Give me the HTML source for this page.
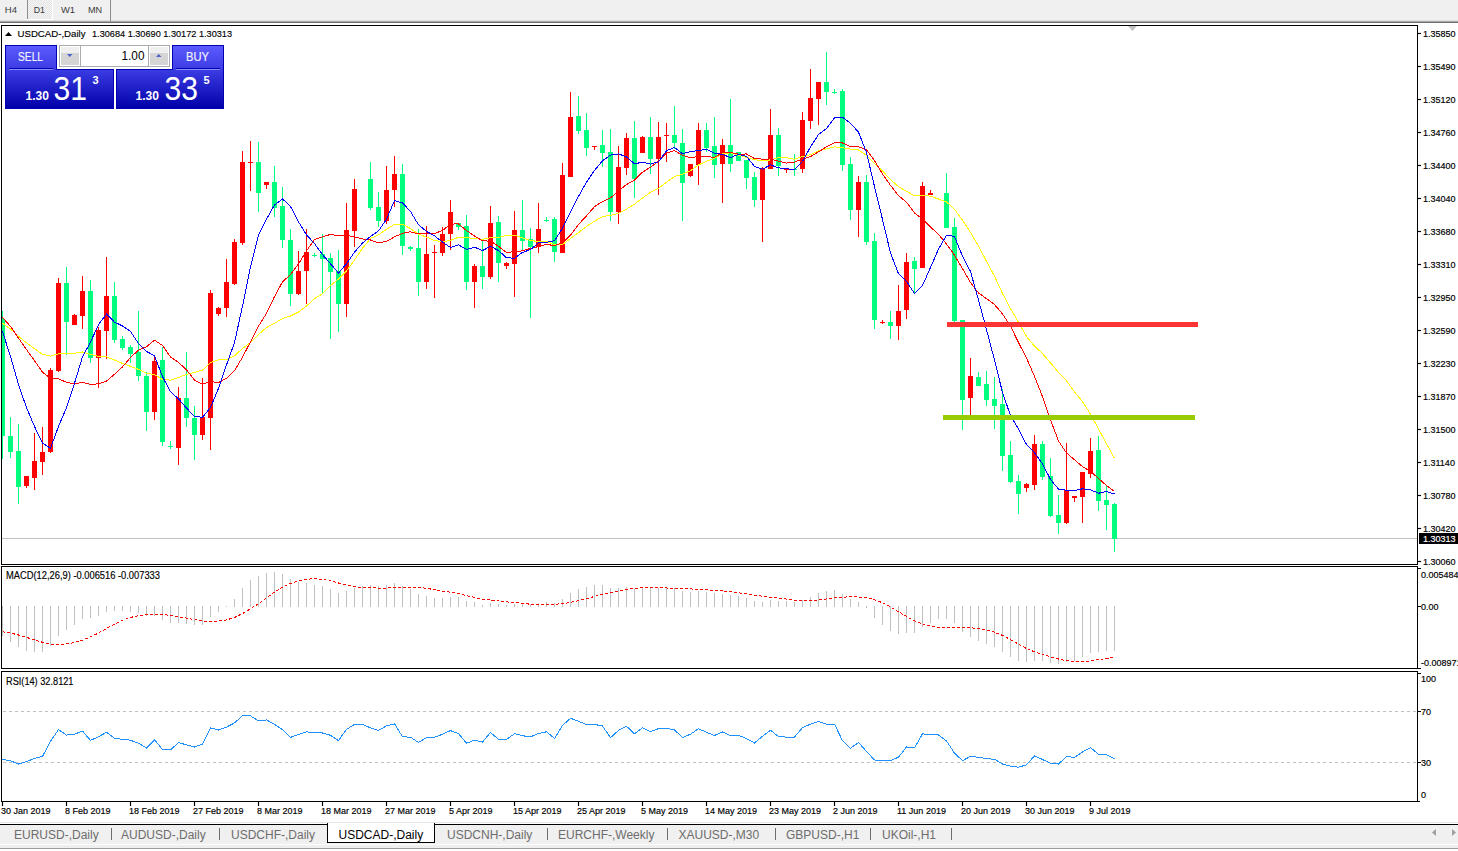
<!DOCTYPE html>
<html><head><meta charset="utf-8">
<style>
html,body{margin:0;padding:0;width:1458px;height:851px;overflow:hidden;background:#fff;}
svg{position:absolute;left:0;top:0}
text{font-family:"Liberation Sans",sans-serif;}
</style></head><body>
<svg width="1458" height="851" viewBox="0 0 1458 851">
<defs>
<clipPath id="cm"><rect x="2" y="26" width="1415" height="538"/></clipPath>
<clipPath id="cd"><rect x="2" y="567" width="1415" height="101"/></clipPath>
<clipPath id="cr"><rect x="2" y="672" width="1415" height="129"/></clipPath>
<pattern id="dots" width="2" height="2" patternUnits="userSpaceOnUse"><rect width="2" height="2" fill="#f5f5f5"/><rect width="1" height="1" fill="#e4e4e4"/><rect x="1" y="1" width="1" height="1" fill="#e4e4e4"/></pattern>
<linearGradient id="gb" gradientUnits="userSpaceOnUse" x1="0" y1="45" x2="0" y2="109"><stop offset="0" stop-color="#5c5cff"/><stop offset="0.37" stop-color="#3d3de6"/><stop offset="1" stop-color="#0000a8"/></linearGradient>
<linearGradient id="btn" x1="0" y1="0" x2="0" y2="1"><stop offset="0" stop-color="#f2f2f2"/><stop offset="1" stop-color="#d2d2d2"/></linearGradient>
</defs>
<g shape-rendering="crispEdges">
<!-- toolbar -->
<rect x="0" y="0" width="1458" height="21" fill="#f0f0f0"/>
<rect x="0" y="20" width="1458" height="1" fill="#e0e0e0"/>
<rect x="0" y="21" width="1458" height="1" fill="#a8a8a8"/>
<rect x="0" y="22" width="1458" height="1" fill="#707070"/>
<rect x="28" y="0" width="24" height="19" fill="url(#dots)"/>
<rect x="52" y="0" width="1" height="20" fill="#ffffff"/>
<rect x="27" y="19" width="26" height="1" fill="#ffffff"/>
<rect x="27" y="0" width="1" height="19" fill="#8c8c8c"/>
<rect x="110" y="0" width="1" height="21" fill="#8c8c8c"/>
<!-- frames -->
<rect x="1" y="25" width="1417" height="1" fill="#000"/>
<rect x="1" y="564" width="1417" height="1" fill="#000"/>
<rect x="1" y="25" width="1" height="540" fill="#000"/>
<rect x="1417" y="25" width="1" height="540" fill="#000"/>
<rect x="1" y="566" width="1417" height="1" fill="#000"/>
<rect x="1" y="668" width="1417" height="1" fill="#000"/>
<rect x="1" y="566" width="1" height="103" fill="#000"/>
<rect x="1417" y="566" width="1" height="103" fill="#000"/>
<rect x="1" y="671" width="1417" height="1" fill="#000"/>
<rect x="1" y="801" width="1417" height="1" fill="#000"/>
<rect x="1" y="671" width="1" height="131" fill="#000"/>
<rect x="1417" y="671" width="1" height="131" fill="#000"/>
<!-- main chart content -->
<g clip-path="url(#cm)">
<rect x="2" y="538" width="1415" height="1" fill="#c0c0c0"/>
<polygon points="1128,26 1137,26 1132.5,31" fill="#c0c0c0" shape-rendering="auto"/>
<rect x="2" y="311" width="1" height="148" fill="#00ff7f"/>
<rect x="0" y="319" width="5" height="117" fill="#00ff7f"/>
<rect x="10" y="417" width="1" height="41" fill="#00ff7f"/>
<rect x="8" y="436" width="5" height="16" fill="#00ff7f"/>
<rect x="18" y="424" width="1" height="80" fill="#00ff7f"/>
<rect x="16" y="451" width="5" height="36" fill="#00ff7f"/>
<rect x="26" y="476" width="1" height="12" fill="#ff0000"/>
<rect x="24" y="476" width="5" height="10" fill="#ff0000"/>
<rect x="34" y="433" width="1" height="57" fill="#ff0000"/>
<rect x="32" y="461" width="5" height="17" fill="#ff0000"/>
<rect x="42" y="427" width="1" height="48" fill="#ff0000"/>
<rect x="40" y="452" width="5" height="10" fill="#ff0000"/>
<rect x="50" y="368" width="1" height="85" fill="#ff0000"/>
<rect x="48" y="370" width="5" height="82" fill="#ff0000"/>
<rect x="58" y="278" width="1" height="94" fill="#ff0000"/>
<rect x="56" y="283" width="5" height="88" fill="#ff0000"/>
<rect x="66" y="267" width="1" height="88" fill="#00ff7f"/>
<rect x="64" y="283" width="5" height="39" fill="#00ff7f"/>
<rect x="74" y="314" width="1" height="11" fill="#ff0000"/>
<rect x="72" y="315" width="5" height="10" fill="#ff0000"/>
<rect x="82" y="276" width="1" height="53" fill="#ff0000"/>
<rect x="80" y="291" width="5" height="25" fill="#ff0000"/>
<rect x="90" y="280" width="1" height="83" fill="#00ff7f"/>
<rect x="88" y="291" width="5" height="67" fill="#00ff7f"/>
<rect x="98" y="327" width="1" height="61" fill="#ff0000"/>
<rect x="96" y="330" width="5" height="28" fill="#ff0000"/>
<rect x="106" y="257" width="1" height="102" fill="#ff0000"/>
<rect x="104" y="296" width="5" height="35" fill="#ff0000"/>
<rect x="114" y="282" width="1" height="61" fill="#00ff7f"/>
<rect x="112" y="296" width="5" height="44" fill="#00ff7f"/>
<rect x="122" y="336" width="1" height="14" fill="#00ff7f"/>
<rect x="120" y="339" width="5" height="9" fill="#00ff7f"/>
<rect x="130" y="345" width="1" height="18" fill="#00ff7f"/>
<rect x="128" y="347" width="5" height="7" fill="#00ff7f"/>
<rect x="138" y="311" width="1" height="70" fill="#00ff7f"/>
<rect x="136" y="352" width="5" height="24" fill="#00ff7f"/>
<rect x="146" y="372" width="1" height="59" fill="#00ff7f"/>
<rect x="144" y="376" width="5" height="36" fill="#00ff7f"/>
<rect x="154" y="356" width="1" height="64" fill="#ff0000"/>
<rect x="152" y="361" width="5" height="51" fill="#ff0000"/>
<rect x="162" y="347" width="1" height="99" fill="#00ff7f"/>
<rect x="160" y="360" width="5" height="82" fill="#00ff7f"/>
<rect x="170" y="441" width="1" height="8" fill="#00ff7f"/>
<rect x="168" y="446" width="5" height="1" fill="#00ff7f"/>
<rect x="178" y="387" width="1" height="78" fill="#ff0000"/>
<rect x="176" y="398" width="5" height="50" fill="#ff0000"/>
<rect x="186" y="352" width="1" height="75" fill="#00ff7f"/>
<rect x="184" y="398" width="5" height="20" fill="#00ff7f"/>
<rect x="194" y="406" width="1" height="54" fill="#00ff7f"/>
<rect x="192" y="418" width="5" height="17" fill="#00ff7f"/>
<rect x="202" y="378" width="1" height="62" fill="#ff0000"/>
<rect x="200" y="417" width="5" height="18" fill="#ff0000"/>
<rect x="210" y="290" width="1" height="160" fill="#ff0000"/>
<rect x="208" y="293" width="5" height="125" fill="#ff0000"/>
<rect x="218" y="307" width="1" height="9" fill="#ff0000"/>
<rect x="216" y="308" width="5" height="6" fill="#ff0000"/>
<rect x="226" y="259" width="1" height="58" fill="#ff0000"/>
<rect x="224" y="282" width="5" height="26" fill="#ff0000"/>
<rect x="234" y="239" width="1" height="46" fill="#ff0000"/>
<rect x="232" y="242" width="5" height="42" fill="#ff0000"/>
<rect x="242" y="151" width="1" height="94" fill="#ff0000"/>
<rect x="240" y="162" width="5" height="81" fill="#ff0000"/>
<rect x="250" y="141" width="1" height="50" fill="#ff0000"/>
<rect x="248" y="162" width="5" height="1" fill="#ff0000"/>
<rect x="258" y="142" width="1" height="70" fill="#00ff7f"/>
<rect x="256" y="162" width="5" height="31" fill="#00ff7f"/>
<rect x="266" y="182" width="1" height="7" fill="#ff0000"/>
<rect x="264" y="182" width="5" height="3" fill="#ff0000"/>
<rect x="274" y="166" width="1" height="51" fill="#00ff7f"/>
<rect x="272" y="182" width="5" height="26" fill="#00ff7f"/>
<rect x="282" y="187" width="1" height="61" fill="#00ff7f"/>
<rect x="280" y="206" width="5" height="34" fill="#00ff7f"/>
<rect x="290" y="229" width="1" height="77" fill="#00ff7f"/>
<rect x="288" y="240" width="5" height="54" fill="#00ff7f"/>
<rect x="298" y="251" width="1" height="44" fill="#ff0000"/>
<rect x="296" y="271" width="5" height="23" fill="#ff0000"/>
<rect x="306" y="229" width="1" height="75" fill="#ff0000"/>
<rect x="304" y="252" width="5" height="19" fill="#ff0000"/>
<rect x="314" y="253" width="1" height="4" fill="#00ff7f"/>
<rect x="312" y="255" width="5" height="1" fill="#00ff7f"/>
<rect x="322" y="234" width="1" height="59" fill="#00ff7f"/>
<rect x="320" y="254" width="5" height="5" fill="#00ff7f"/>
<rect x="330" y="253" width="1" height="86" fill="#00ff7f"/>
<rect x="328" y="258" width="5" height="14" fill="#00ff7f"/>
<rect x="338" y="250" width="1" height="82" fill="#00ff7f"/>
<rect x="336" y="271" width="5" height="33" fill="#00ff7f"/>
<rect x="346" y="203" width="1" height="114" fill="#ff0000"/>
<rect x="344" y="230" width="5" height="74" fill="#ff0000"/>
<rect x="354" y="179" width="1" height="68" fill="#ff0000"/>
<rect x="352" y="189" width="5" height="42" fill="#ff0000"/>
<rect x="370" y="162" width="1" height="48" fill="#00ff7f"/>
<rect x="368" y="179" width="5" height="29" fill="#00ff7f"/>
<rect x="378" y="192" width="1" height="35" fill="#00ff7f"/>
<rect x="376" y="207" width="5" height="14" fill="#00ff7f"/>
<rect x="386" y="166" width="1" height="58" fill="#ff0000"/>
<rect x="384" y="190" width="5" height="31" fill="#ff0000"/>
<rect x="394" y="156" width="1" height="51" fill="#ff0000"/>
<rect x="392" y="174" width="5" height="16" fill="#ff0000"/>
<rect x="402" y="164" width="1" height="91" fill="#00ff7f"/>
<rect x="400" y="174" width="5" height="72" fill="#00ff7f"/>
<rect x="410" y="246" width="1" height="5" fill="#00ff7f"/>
<rect x="408" y="247" width="5" height="2" fill="#00ff7f"/>
<rect x="418" y="229" width="1" height="67" fill="#00ff7f"/>
<rect x="416" y="248" width="5" height="34" fill="#00ff7f"/>
<rect x="426" y="226" width="1" height="63" fill="#ff0000"/>
<rect x="424" y="254" width="5" height="28" fill="#ff0000"/>
<rect x="434" y="245" width="1" height="53" fill="#ff0000"/>
<rect x="432" y="252" width="5" height="1" fill="#ff0000"/>
<rect x="442" y="227" width="1" height="29" fill="#ff0000"/>
<rect x="440" y="234" width="5" height="19" fill="#ff0000"/>
<rect x="450" y="200" width="1" height="50" fill="#ff0000"/>
<rect x="448" y="212" width="5" height="22" fill="#ff0000"/>
<rect x="458" y="223" width="1" height="7" fill="#00ff7f"/>
<rect x="456" y="223" width="5" height="4" fill="#00ff7f"/>
<rect x="466" y="215" width="1" height="75" fill="#00ff7f"/>
<rect x="464" y="226" width="5" height="56" fill="#00ff7f"/>
<rect x="474" y="264" width="1" height="44" fill="#ff0000"/>
<rect x="472" y="266" width="5" height="16" fill="#ff0000"/>
<rect x="482" y="240" width="1" height="49" fill="#00ff7f"/>
<rect x="480" y="266" width="5" height="11" fill="#00ff7f"/>
<rect x="490" y="206" width="1" height="73" fill="#ff0000"/>
<rect x="488" y="223" width="5" height="54" fill="#ff0000"/>
<rect x="498" y="216" width="1" height="66" fill="#00ff7f"/>
<rect x="496" y="222" width="5" height="41" fill="#00ff7f"/>
<rect x="506" y="262" width="1" height="7" fill="#ff0000"/>
<rect x="504" y="263" width="5" height="3" fill="#ff0000"/>
<rect x="514" y="211" width="1" height="86" fill="#ff0000"/>
<rect x="512" y="230" width="5" height="34" fill="#ff0000"/>
<rect x="522" y="200" width="1" height="50" fill="#00ff7f"/>
<rect x="520" y="230" width="5" height="11" fill="#00ff7f"/>
<rect x="530" y="228" width="1" height="90" fill="#00ff7f"/>
<rect x="528" y="239" width="5" height="8" fill="#00ff7f"/>
<rect x="538" y="203" width="1" height="50" fill="#ff0000"/>
<rect x="536" y="229" width="5" height="18" fill="#ff0000"/>
<rect x="546" y="217" width="1" height="5" fill="#00ff7f"/>
<rect x="544" y="220" width="5" height="1" fill="#00ff7f"/>
<rect x="554" y="217" width="1" height="45" fill="#00ff7f"/>
<rect x="552" y="219" width="5" height="33" fill="#00ff7f"/>
<rect x="562" y="163" width="1" height="90" fill="#ff0000"/>
<rect x="560" y="175" width="5" height="78" fill="#ff0000"/>
<rect x="570" y="92" width="1" height="85" fill="#ff0000"/>
<rect x="568" y="117" width="5" height="60" fill="#ff0000"/>
<rect x="578" y="96" width="1" height="38" fill="#00ff7f"/>
<rect x="576" y="116" width="5" height="15" fill="#00ff7f"/>
<rect x="586" y="113" width="1" height="43" fill="#00ff7f"/>
<rect x="584" y="130" width="5" height="18" fill="#00ff7f"/>
<rect x="594" y="146" width="1" height="4" fill="#ff0000"/>
<rect x="592" y="146" width="5" height="1" fill="#ff0000"/>
<rect x="602" y="130" width="1" height="37" fill="#00ff7f"/>
<rect x="600" y="145" width="5" height="8" fill="#00ff7f"/>
<rect x="610" y="129" width="1" height="92" fill="#00ff7f"/>
<rect x="608" y="152" width="5" height="60" fill="#00ff7f"/>
<rect x="618" y="146" width="1" height="78" fill="#ff0000"/>
<rect x="616" y="167" width="5" height="45" fill="#ff0000"/>
<rect x="626" y="133" width="1" height="42" fill="#ff0000"/>
<rect x="624" y="138" width="5" height="30" fill="#ff0000"/>
<rect x="634" y="121" width="1" height="77" fill="#00ff7f"/>
<rect x="632" y="138" width="5" height="41" fill="#00ff7f"/>
<rect x="642" y="136" width="1" height="17" fill="#ff0000"/>
<rect x="640" y="137" width="5" height="16" fill="#ff0000"/>
<rect x="650" y="117" width="1" height="57" fill="#00ff7f"/>
<rect x="648" y="137" width="5" height="22" fill="#00ff7f"/>
<rect x="658" y="122" width="1" height="73" fill="#ff0000"/>
<rect x="656" y="137" width="5" height="22" fill="#ff0000"/>
<rect x="666" y="123" width="1" height="39" fill="#ff0000"/>
<rect x="664" y="135" width="5" height="1" fill="#ff0000"/>
<rect x="674" y="106" width="1" height="43" fill="#00ff7f"/>
<rect x="672" y="135" width="5" height="8" fill="#00ff7f"/>
<rect x="682" y="129" width="1" height="92" fill="#00ff7f"/>
<rect x="680" y="143" width="5" height="40" fill="#00ff7f"/>
<rect x="690" y="164" width="1" height="13" fill="#ff0000"/>
<rect x="688" y="164" width="5" height="12" fill="#ff0000"/>
<rect x="698" y="123" width="1" height="62" fill="#ff0000"/>
<rect x="696" y="130" width="5" height="35" fill="#ff0000"/>
<rect x="706" y="123" width="1" height="29" fill="#00ff7f"/>
<rect x="704" y="130" width="5" height="18" fill="#00ff7f"/>
<rect x="714" y="117" width="1" height="61" fill="#00ff7f"/>
<rect x="712" y="146" width="5" height="19" fill="#00ff7f"/>
<rect x="722" y="139" width="1" height="64" fill="#ff0000"/>
<rect x="720" y="145" width="5" height="19" fill="#ff0000"/>
<rect x="730" y="99" width="1" height="73" fill="#00ff7f"/>
<rect x="728" y="145" width="5" height="19" fill="#00ff7f"/>
<rect x="738" y="152" width="1" height="9" fill="#00ff7f"/>
<rect x="736" y="152" width="5" height="9" fill="#00ff7f"/>
<rect x="746" y="160" width="1" height="29" fill="#00ff7f"/>
<rect x="744" y="160" width="5" height="18" fill="#00ff7f"/>
<rect x="754" y="172" width="1" height="35" fill="#00ff7f"/>
<rect x="752" y="177" width="5" height="23" fill="#00ff7f"/>
<rect x="762" y="167" width="1" height="75" fill="#ff0000"/>
<rect x="760" y="168" width="5" height="32" fill="#ff0000"/>
<rect x="770" y="109" width="1" height="60" fill="#ff0000"/>
<rect x="768" y="135" width="5" height="34" fill="#ff0000"/>
<rect x="778" y="128" width="1" height="48" fill="#00ff7f"/>
<rect x="776" y="135" width="5" height="31" fill="#00ff7f"/>
<rect x="786" y="168" width="1" height="5" fill="#ff0000"/>
<rect x="784" y="169" width="5" height="1" fill="#ff0000"/>
<rect x="794" y="154" width="1" height="22" fill="#00ff7f"/>
<rect x="792" y="169" width="5" height="1" fill="#00ff7f"/>
<rect x="802" y="112" width="1" height="61" fill="#ff0000"/>
<rect x="800" y="120" width="5" height="49" fill="#ff0000"/>
<rect x="810" y="69" width="1" height="60" fill="#ff0000"/>
<rect x="808" y="98" width="5" height="23" fill="#ff0000"/>
<rect x="818" y="82" width="1" height="43" fill="#ff0000"/>
<rect x="816" y="82" width="5" height="17" fill="#ff0000"/>
<rect x="826" y="52" width="1" height="53" fill="#00ff7f"/>
<rect x="824" y="82" width="5" height="10" fill="#00ff7f"/>
<rect x="834" y="89" width="1" height="5" fill="#00ff7f"/>
<rect x="832" y="92" width="5" height="1" fill="#00ff7f"/>
<rect x="842" y="89" width="1" height="82" fill="#00ff7f"/>
<rect x="840" y="91" width="5" height="74" fill="#00ff7f"/>
<rect x="850" y="157" width="1" height="63" fill="#00ff7f"/>
<rect x="848" y="164" width="5" height="46" fill="#00ff7f"/>
<rect x="858" y="176" width="1" height="61" fill="#ff0000"/>
<rect x="856" y="182" width="5" height="28" fill="#ff0000"/>
<rect x="866" y="175" width="1" height="70" fill="#00ff7f"/>
<rect x="864" y="182" width="5" height="60" fill="#00ff7f"/>
<rect x="874" y="233" width="1" height="96" fill="#00ff7f"/>
<rect x="872" y="241" width="5" height="79" fill="#00ff7f"/>
<rect x="882" y="320" width="1" height="4" fill="#ff0000"/>
<rect x="880" y="322" width="5" height="1" fill="#ff0000"/>
<rect x="890" y="311" width="1" height="28" fill="#00ff7f"/>
<rect x="888" y="322" width="5" height="4" fill="#00ff7f"/>
<rect x="898" y="285" width="1" height="55" fill="#ff0000"/>
<rect x="896" y="311" width="5" height="15" fill="#ff0000"/>
<rect x="906" y="253" width="1" height="66" fill="#ff0000"/>
<rect x="904" y="262" width="5" height="48" fill="#ff0000"/>
<rect x="914" y="257" width="1" height="36" fill="#00ff7f"/>
<rect x="912" y="261" width="5" height="8" fill="#00ff7f"/>
<rect x="922" y="182" width="1" height="86" fill="#ff0000"/>
<rect x="920" y="186" width="5" height="82" fill="#ff0000"/>
<rect x="930" y="190" width="1" height="5" fill="#ff0000"/>
<rect x="928" y="193" width="5" height="2" fill="#ff0000"/>
<rect x="946" y="173" width="1" height="55" fill="#00ff7f"/>
<rect x="944" y="193" width="5" height="35" fill="#00ff7f"/>
<rect x="954" y="218" width="1" height="104" fill="#00ff7f"/>
<rect x="952" y="227" width="5" height="94" fill="#00ff7f"/>
<rect x="962" y="320" width="1" height="110" fill="#00ff7f"/>
<rect x="960" y="320" width="5" height="80" fill="#00ff7f"/>
<rect x="970" y="358" width="1" height="57" fill="#ff0000"/>
<rect x="968" y="376" width="5" height="22" fill="#ff0000"/>
<rect x="978" y="372" width="1" height="14" fill="#00ff7f"/>
<rect x="976" y="377" width="5" height="9" fill="#00ff7f"/>
<rect x="986" y="371" width="1" height="35" fill="#00ff7f"/>
<rect x="984" y="384" width="5" height="16" fill="#00ff7f"/>
<rect x="994" y="377" width="1" height="52" fill="#00ff7f"/>
<rect x="992" y="399" width="5" height="7" fill="#00ff7f"/>
<rect x="1002" y="389" width="1" height="82" fill="#00ff7f"/>
<rect x="1000" y="404" width="5" height="52" fill="#00ff7f"/>
<rect x="1010" y="441" width="1" height="42" fill="#00ff7f"/>
<rect x="1008" y="455" width="5" height="27" fill="#00ff7f"/>
<rect x="1018" y="475" width="1" height="39" fill="#00ff7f"/>
<rect x="1016" y="481" width="5" height="13" fill="#00ff7f"/>
<rect x="1026" y="483" width="1" height="9" fill="#ff0000"/>
<rect x="1024" y="484" width="5" height="4" fill="#ff0000"/>
<rect x="1034" y="435" width="1" height="55" fill="#ff0000"/>
<rect x="1032" y="444" width="5" height="41" fill="#ff0000"/>
<rect x="1042" y="441" width="1" height="39" fill="#00ff7f"/>
<rect x="1040" y="444" width="5" height="33" fill="#00ff7f"/>
<rect x="1050" y="458" width="1" height="59" fill="#00ff7f"/>
<rect x="1048" y="476" width="5" height="40" fill="#00ff7f"/>
<rect x="1058" y="495" width="1" height="39" fill="#00ff7f"/>
<rect x="1056" y="515" width="5" height="8" fill="#00ff7f"/>
<rect x="1066" y="443" width="1" height="81" fill="#ff0000"/>
<rect x="1064" y="490" width="5" height="33" fill="#ff0000"/>
<rect x="1074" y="496" width="1" height="6" fill="#ff0000"/>
<rect x="1072" y="496" width="5" height="2" fill="#ff0000"/>
<rect x="1082" y="472" width="1" height="51" fill="#ff0000"/>
<rect x="1080" y="472" width="5" height="25" fill="#ff0000"/>
<rect x="1090" y="438" width="1" height="40" fill="#ff0000"/>
<rect x="1088" y="451" width="5" height="23" fill="#ff0000"/>
<rect x="1098" y="436" width="1" height="75" fill="#00ff7f"/>
<rect x="1096" y="450" width="5" height="51" fill="#00ff7f"/>
<rect x="1106" y="485" width="1" height="45" fill="#00ff7f"/>
<rect x="1104" y="500" width="5" height="5" fill="#00ff7f"/>
<rect x="1114" y="503" width="1" height="49" fill="#00ff7f"/>
<rect x="1112" y="504" width="5" height="35" fill="#00ff7f"/>
<g shape-rendering="crispEdges">
<polyline points="2.5,323.4 10.5,329.0 18.5,336.2 26.5,342.8 34.5,348.7 42.5,354.3 50.5,356.1 58.5,353.8 66.5,353.5 74.5,353.2 82.5,352.0 90.5,354.5 98.5,356.3 106.5,356.9 114.5,360.0 122.5,363.4 130.5,366.4 138.5,369.4 146.5,373.3 154.5,374.5 162.5,379.6 170.5,380.1 178.5,377.5 186.5,374.3 194.5,372.3 202.5,370.2 210.5,362.6 218.5,359.7 226.5,359.6 234.5,355.8 242.5,348.5 250.5,342.4 258.5,334.5 266.5,327.5 274.5,323.3 282.5,318.5 290.5,316.0 298.5,312.0 306.5,306.1 314.5,298.6 322.5,293.8 330.5,285.7 338.5,278.9 346.5,270.9 354.5,260.0 362.5,248.3 370.5,238.4 378.5,234.9 386.5,229.3 394.5,224.2 402.5,224.4 410.5,228.5 418.5,234.2 426.5,237.1 434.5,240.5 442.5,241.7 450.5,240.4 458.5,237.2 466.5,237.7 474.5,238.4 482.5,239.4 490.5,237.7 498.5,237.3 506.5,235.3 514.5,235.3 522.5,237.8 530.5,240.5 538.5,241.5 546.5,241.5 554.5,244.5 562.5,244.5 570.5,238.4 578.5,232.7 586.5,226.4 594.5,221.2 602.5,216.5 610.5,215.5 618.5,213.3 626.5,209.1 634.5,204.2 642.5,198.0 650.5,192.4 658.5,188.3 666.5,182.2 674.5,176.5 682.5,174.3 690.5,170.6 698.5,165.0 706.5,161.2 714.5,158.5 722.5,153.5 730.5,152.9 738.5,155.0 746.5,157.3 754.5,159.7 762.5,160.8 770.5,159.9 778.5,157.7 786.5,157.8 794.5,159.3 802.5,156.5 810.5,154.6 818.5,151.0 826.5,148.8 834.5,146.8 842.5,147.8 850.5,149.1 858.5,150.0 866.5,155.3 874.5,163.5 882.5,171.0 890.5,179.6 898.5,186.6 906.5,191.4 914.5,195.7 922.5,195.1 930.5,196.3 938.5,199.0 946.5,202.0 954.5,209.2 962.5,220.2 970.5,232.4 978.5,246.1 986.5,261.3 994.5,276.2 1002.5,293.5 1010.5,308.6 1018.5,322.2 1026.5,336.5 1034.5,346.2 1042.5,353.6 1050.5,362.9 1058.5,372.3 1066.5,380.8 1074.5,391.9 1082.5,401.6 1090.5,414.2 1098.5,428.9 1106.5,443.7 1114.5,458.5" fill="none" stroke="#ffff00" stroke-width="1" />
<polyline points="2.5,317.5 10.5,326.4 18.5,338.1 26.5,349.6 34.5,360.7 42.5,372.1 50.5,378.4 58.5,378.9 66.5,382.2 74.5,383.9 82.5,382.3 90.5,384.3 98.5,383.9 106.5,381.1 114.5,374.3 122.5,366.9 130.5,357.4 138.5,350.2 146.5,346.7 154.5,340.2 162.5,345.4 170.5,357.0 178.5,362.4 186.5,369.8 194.5,380.1 202.5,384.3 210.5,381.6 218.5,382.5 226.5,378.4 234.5,370.8 242.5,357.1 250.5,341.8 258.5,326.1 266.5,313.4 274.5,296.6 282.5,281.9 290.5,274.5 298.5,264.0 306.5,250.9 314.5,239.4 322.5,236.9 330.5,234.4 338.5,235.9 346.5,235.1 354.5,237.0 362.5,238.9 370.5,240.0 378.5,242.8 386.5,241.5 394.5,236.8 402.5,233.4 410.5,231.8 418.5,233.9 426.5,233.9 434.5,233.4 442.5,230.6 450.5,224.1 458.5,223.9 466.5,230.5 474.5,236.0 482.5,240.9 490.5,241.1 498.5,246.3 506.5,252.6 514.5,251.5 522.5,250.9 530.5,248.4 538.5,246.6 546.5,244.4 554.5,245.6 562.5,243.0 570.5,235.1 578.5,224.4 586.5,215.9 594.5,206.6 602.5,201.6 610.5,197.9 618.5,191.1 626.5,184.5 634.5,180.1 642.5,172.2 650.5,167.2 658.5,161.3 666.5,152.9 674.5,150.6 682.5,155.4 690.5,157.7 698.5,156.4 706.5,156.6 714.5,157.4 722.5,152.6 730.5,152.4 738.5,154.1 746.5,154.0 754.5,158.5 762.5,159.1 770.5,159.0 778.5,161.2 786.5,163.1 794.5,162.1 802.5,158.9 810.5,156.6 818.5,151.9 826.5,146.7 834.5,142.9 842.5,143.0 850.5,146.5 858.5,146.8 866.5,149.8 874.5,160.6 882.5,174.0 890.5,185.4 898.5,195.6 906.5,202.2 914.5,212.9 922.5,219.1 930.5,227.1 938.5,234.3 946.5,244.0 954.5,255.1 962.5,268.7 970.5,282.6 978.5,292.9 986.5,298.6 994.5,304.6 1002.5,313.9 1010.5,326.1 1018.5,342.6 1026.5,358.0 1034.5,376.4 1042.5,396.7 1050.5,419.8 1058.5,440.9 1066.5,452.9 1074.5,459.8 1082.5,466.6 1090.5,471.3 1098.5,478.5 1106.5,485.6 1114.5,491.5" fill="none" stroke="#ff0000" stroke-width="1" />
<polyline points="2.5,331.5 10.5,356.5 18.5,384.6 26.5,407.7 34.5,426.5 42.5,443.2 50.5,448.2 58.5,426.4 66.5,407.8 74.5,383.2 82.5,356.8 90.5,342.1 98.5,324.6 106.5,314.1 114.5,322.2 122.5,325.9 130.5,331.5 138.5,343.6 146.5,351.4 154.5,355.8 162.5,376.6 170.5,391.8 178.5,398.9 186.5,408.1 194.5,416.5 202.5,417.2 210.5,407.5 218.5,388.4 226.5,364.9 234.5,342.6 242.5,306.1 250.5,267.1 258.5,235.1 266.5,219.2 274.5,204.9 282.5,198.9 290.5,206.4 298.5,221.9 306.5,234.8 314.5,243.6 322.5,254.6 330.5,263.8 338.5,272.9 346.5,263.8 354.5,252.1 362.5,243.1 370.5,236.4 378.5,230.9 386.5,219.2 394.5,200.6 402.5,202.9 410.5,211.5 418.5,224.8 426.5,231.4 434.5,235.8 442.5,242.1 450.5,247.5 458.5,244.8 466.5,249.5 474.5,247.2 482.5,250.5 490.5,246.4 498.5,250.5 506.5,257.8 514.5,258.2 522.5,252.4 530.5,249.6 538.5,242.8 546.5,242.4 554.5,240.8 562.5,228.2 570.5,212.1 578.5,196.4 586.5,182.2 594.5,170.4 602.5,160.8 610.5,155.1 618.5,153.9 626.5,156.9 634.5,163.8 642.5,162.2 650.5,164.1 658.5,161.8 666.5,150.8 674.5,147.4 682.5,153.8 690.5,151.6 698.5,150.6 706.5,149.1 714.5,153.1 722.5,154.5 730.5,157.5 738.5,154.4 746.5,156.4 754.5,166.4 762.5,169.2 770.5,164.9 778.5,167.9 786.5,168.6 794.5,169.8 802.5,161.5 810.5,146.9 818.5,134.6 826.5,128.5 834.5,117.9 842.5,117.4 850.5,123.2 858.5,132.1 866.5,152.6 874.5,186.6 882.5,219.5 890.5,252.9 898.5,273.8 906.5,281.2 914.5,293.6 922.5,285.6 930.5,267.5 938.5,249.1 946.5,235.1 954.5,236.5 962.5,256.2 970.5,271.5 978.5,300.1 986.5,329.6 994.5,360.1 1002.5,392.6 1010.5,415.6 1018.5,429.1 1026.5,444.5 1034.5,452.8 1042.5,463.8 1050.5,479.5 1058.5,489.1 1066.5,490.2 1074.5,490.5 1082.5,488.8 1090.5,489.8 1098.5,493.2 1106.5,491.6 1114.5,493.9" fill="none" stroke="#0000ff" stroke-width="1" />
</g>
<rect x="947" y="322" width="251" height="5" fill="#fc3434"/>
<rect x="943" y="415" width="252" height="5" fill="#99cc00"/>
</g>
<!-- MACD -->
<g clip-path="url(#cd)">
<rect x="2" y="606" width="1" height="30" fill="#c0c0c0"/>
<rect x="10" y="606" width="1" height="36" fill="#c0c0c0"/>
<rect x="18" y="606" width="1" height="41" fill="#c0c0c0"/>
<rect x="26" y="606" width="1" height="45" fill="#c0c0c0"/>
<rect x="34" y="606" width="1" height="46" fill="#c0c0c0"/>
<rect x="42" y="606" width="1" height="46" fill="#c0c0c0"/>
<rect x="50" y="606" width="1" height="40" fill="#c0c0c0"/>
<rect x="58" y="606" width="1" height="30" fill="#c0c0c0"/>
<rect x="66" y="606" width="1" height="24" fill="#c0c0c0"/>
<rect x="74" y="606" width="1" height="19" fill="#c0c0c0"/>
<rect x="82" y="606" width="1" height="13" fill="#c0c0c0"/>
<rect x="90" y="606" width="1" height="12" fill="#c0c0c0"/>
<rect x="98" y="606" width="1" height="10" fill="#c0c0c0"/>
<rect x="106" y="606" width="1" height="6" fill="#c0c0c0"/>
<rect x="114" y="606" width="1" height="5" fill="#c0c0c0"/>
<rect x="122" y="606" width="1" height="5" fill="#c0c0c0"/>
<rect x="130" y="606" width="1" height="6" fill="#c0c0c0"/>
<rect x="138" y="606" width="1" height="7" fill="#c0c0c0"/>
<rect x="146" y="606" width="1" height="10" fill="#c0c0c0"/>
<rect x="154" y="606" width="1" height="10" fill="#c0c0c0"/>
<rect x="162" y="606" width="1" height="14" fill="#c0c0c0"/>
<rect x="170" y="606" width="1" height="17" fill="#c0c0c0"/>
<rect x="178" y="606" width="1" height="17" fill="#c0c0c0"/>
<rect x="186" y="606" width="1" height="18" fill="#c0c0c0"/>
<rect x="194" y="606" width="1" height="19" fill="#c0c0c0"/>
<rect x="202" y="606" width="1" height="19" fill="#c0c0c0"/>
<rect x="210" y="606" width="1" height="11" fill="#c0c0c0"/>
<rect x="218" y="606" width="1" height="6" fill="#c0c0c0"/>
<rect x="226" y="606" width="1" height="1" fill="#c0c0c0"/>
<rect x="234" y="599" width="1" height="8" fill="#c0c0c0"/>
<rect x="242" y="588" width="1" height="19" fill="#c0c0c0"/>
<rect x="250" y="580" width="1" height="27" fill="#c0c0c0"/>
<rect x="258" y="576" width="1" height="31" fill="#c0c0c0"/>
<rect x="266" y="573" width="1" height="34" fill="#c0c0c0"/>
<rect x="274" y="572" width="1" height="35" fill="#c0c0c0"/>
<rect x="282" y="574" width="1" height="33" fill="#c0c0c0"/>
<rect x="290" y="579" width="1" height="28" fill="#c0c0c0"/>
<rect x="298" y="582" width="1" height="25" fill="#c0c0c0"/>
<rect x="306" y="583" width="1" height="24" fill="#c0c0c0"/>
<rect x="314" y="585" width="1" height="22" fill="#c0c0c0"/>
<rect x="322" y="586" width="1" height="21" fill="#c0c0c0"/>
<rect x="330" y="589" width="1" height="18" fill="#c0c0c0"/>
<rect x="338" y="593" width="1" height="14" fill="#c0c0c0"/>
<rect x="346" y="591" width="1" height="16" fill="#c0c0c0"/>
<rect x="354" y="588" width="1" height="19" fill="#c0c0c0"/>
<rect x="362" y="586" width="1" height="21" fill="#c0c0c0"/>
<rect x="370" y="585" width="1" height="22" fill="#c0c0c0"/>
<rect x="378" y="586" width="1" height="21" fill="#c0c0c0"/>
<rect x="386" y="585" width="1" height="22" fill="#c0c0c0"/>
<rect x="394" y="583" width="1" height="24" fill="#c0c0c0"/>
<rect x="402" y="586" width="1" height="21" fill="#c0c0c0"/>
<rect x="410" y="589" width="1" height="18" fill="#c0c0c0"/>
<rect x="418" y="594" width="1" height="13" fill="#c0c0c0"/>
<rect x="426" y="596" width="1" height="11" fill="#c0c0c0"/>
<rect x="434" y="598" width="1" height="9" fill="#c0c0c0"/>
<rect x="442" y="598" width="1" height="9" fill="#c0c0c0"/>
<rect x="450" y="597" width="1" height="10" fill="#c0c0c0"/>
<rect x="458" y="597" width="1" height="10" fill="#c0c0c0"/>
<rect x="466" y="601" width="1" height="6" fill="#c0c0c0"/>
<rect x="474" y="602" width="1" height="5" fill="#c0c0c0"/>
<rect x="482" y="605" width="1" height="2" fill="#c0c0c0"/>
<rect x="490" y="603" width="1" height="4" fill="#c0c0c0"/>
<rect x="498" y="604" width="1" height="3" fill="#c0c0c0"/>
<rect x="506" y="605" width="1" height="2" fill="#c0c0c0"/>
<rect x="514" y="604" width="1" height="3" fill="#c0c0c0"/>
<rect x="522" y="604" width="1" height="3" fill="#c0c0c0"/>
<rect x="530" y="604" width="1" height="3" fill="#c0c0c0"/>
<rect x="538" y="603" width="1" height="4" fill="#c0c0c0"/>
<rect x="546" y="602" width="1" height="5" fill="#c0c0c0"/>
<rect x="554" y="603" width="1" height="4" fill="#c0c0c0"/>
<rect x="562" y="599" width="1" height="8" fill="#c0c0c0"/>
<rect x="570" y="593" width="1" height="14" fill="#c0c0c0"/>
<rect x="578" y="589" width="1" height="18" fill="#c0c0c0"/>
<rect x="586" y="587" width="1" height="20" fill="#c0c0c0"/>
<rect x="594" y="585" width="1" height="22" fill="#c0c0c0"/>
<rect x="602" y="585" width="1" height="22" fill="#c0c0c0"/>
<rect x="610" y="588" width="1" height="19" fill="#c0c0c0"/>
<rect x="618" y="588" width="1" height="19" fill="#c0c0c0"/>
<rect x="626" y="587" width="1" height="20" fill="#c0c0c0"/>
<rect x="634" y="589" width="1" height="18" fill="#c0c0c0"/>
<rect x="642" y="587" width="1" height="20" fill="#c0c0c0"/>
<rect x="650" y="588" width="1" height="19" fill="#c0c0c0"/>
<rect x="658" y="588" width="1" height="19" fill="#c0c0c0"/>
<rect x="666" y="587" width="1" height="20" fill="#c0c0c0"/>
<rect x="674" y="588" width="1" height="19" fill="#c0c0c0"/>
<rect x="682" y="591" width="1" height="16" fill="#c0c0c0"/>
<rect x="690" y="592" width="1" height="15" fill="#c0c0c0"/>
<rect x="698" y="591" width="1" height="16" fill="#c0c0c0"/>
<rect x="706" y="592" width="1" height="15" fill="#c0c0c0"/>
<rect x="714" y="593" width="1" height="14" fill="#c0c0c0"/>
<rect x="722" y="594" width="1" height="13" fill="#c0c0c0"/>
<rect x="730" y="595" width="1" height="12" fill="#c0c0c0"/>
<rect x="738" y="596" width="1" height="11" fill="#c0c0c0"/>
<rect x="746" y="598" width="1" height="9" fill="#c0c0c0"/>
<rect x="754" y="601" width="1" height="6" fill="#c0c0c0"/>
<rect x="762" y="602" width="1" height="5" fill="#c0c0c0"/>
<rect x="770" y="600" width="1" height="7" fill="#c0c0c0"/>
<rect x="778" y="601" width="1" height="6" fill="#c0c0c0"/>
<rect x="786" y="601" width="1" height="6" fill="#c0c0c0"/>
<rect x="794" y="602" width="1" height="5" fill="#c0c0c0"/>
<rect x="802" y="600" width="1" height="7" fill="#c0c0c0"/>
<rect x="810" y="597" width="1" height="10" fill="#c0c0c0"/>
<rect x="818" y="593" width="1" height="14" fill="#c0c0c0"/>
<rect x="826" y="591" width="1" height="16" fill="#c0c0c0"/>
<rect x="834" y="590" width="1" height="17" fill="#c0c0c0"/>
<rect x="842" y="594" width="1" height="13" fill="#c0c0c0"/>
<rect x="850" y="599" width="1" height="8" fill="#c0c0c0"/>
<rect x="858" y="602" width="1" height="5" fill="#c0c0c0"/>
<rect x="866" y="606" width="1" height="2" fill="#c0c0c0"/>
<rect x="874" y="606" width="1" height="12" fill="#c0c0c0"/>
<rect x="882" y="606" width="1" height="19" fill="#c0c0c0"/>
<rect x="890" y="606" width="1" height="25" fill="#c0c0c0"/>
<rect x="898" y="606" width="1" height="28" fill="#c0c0c0"/>
<rect x="906" y="606" width="1" height="27" fill="#c0c0c0"/>
<rect x="914" y="606" width="1" height="27" fill="#c0c0c0"/>
<rect x="922" y="606" width="1" height="21" fill="#c0c0c0"/>
<rect x="930" y="606" width="1" height="17" fill="#c0c0c0"/>
<rect x="938" y="606" width="1" height="13" fill="#c0c0c0"/>
<rect x="946" y="606" width="1" height="13" fill="#c0c0c0"/>
<rect x="954" y="606" width="1" height="17" fill="#c0c0c0"/>
<rect x="962" y="606" width="1" height="26" fill="#c0c0c0"/>
<rect x="970" y="606" width="1" height="31" fill="#c0c0c0"/>
<rect x="978" y="606" width="1" height="35" fill="#c0c0c0"/>
<rect x="986" y="606" width="1" height="38" fill="#c0c0c0"/>
<rect x="994" y="606" width="1" height="41" fill="#c0c0c0"/>
<rect x="1002" y="606" width="1" height="46" fill="#c0c0c0"/>
<rect x="1010" y="606" width="1" height="51" fill="#c0c0c0"/>
<rect x="1018" y="606" width="1" height="55" fill="#c0c0c0"/>
<rect x="1026" y="606" width="1" height="56" fill="#c0c0c0"/>
<rect x="1034" y="606" width="1" height="55" fill="#c0c0c0"/>
<rect x="1042" y="606" width="1" height="55" fill="#c0c0c0"/>
<rect x="1050" y="606" width="1" height="57" fill="#c0c0c0"/>
<rect x="1058" y="606" width="1" height="58" fill="#c0c0c0"/>
<rect x="1066" y="606" width="1" height="56" fill="#c0c0c0"/>
<rect x="1074" y="606" width="1" height="55" fill="#c0c0c0"/>
<rect x="1082" y="606" width="1" height="51" fill="#c0c0c0"/>
<rect x="1090" y="606" width="1" height="47" fill="#c0c0c0"/>
<rect x="1098" y="606" width="1" height="46" fill="#c0c0c0"/>
<rect x="1106" y="606" width="1" height="45" fill="#c0c0c0"/>
<rect x="1114" y="606" width="1" height="45" fill="#c0c0c0"/>
<polyline points="2.5,631.7 10.5,633.0 18.5,635.0 26.5,637.4 34.5,639.9 42.5,642.3 50.5,644.0 58.5,644.4 66.5,643.9 74.5,642.6 82.5,640.1 90.5,636.9 98.5,633.0 106.5,628.6 114.5,624.1 122.5,620.2 130.5,617.5 138.5,615.6 146.5,614.7 154.5,614.4 162.5,614.6 170.5,615.4 178.5,616.7 186.5,618.1 194.5,619.6 202.5,621.1 210.5,621.6 218.5,621.0 226.5,619.9 234.5,617.5 242.5,613.6 250.5,608.9 258.5,603.6 266.5,597.8 274.5,592.0 282.5,587.2 290.5,583.6 298.5,580.9 306.5,579.2 314.5,578.8 322.5,579.5 330.5,580.8 338.5,583.0 346.5,585.1 354.5,586.7 362.5,587.4 370.5,587.8 378.5,588.1 386.5,588.1 394.5,587.7 402.5,587.5 410.5,587.1 418.5,587.4 426.5,588.3 434.5,589.7 442.5,591.1 450.5,592.3 458.5,593.7 466.5,595.6 474.5,597.4 482.5,599.1 490.5,600.1 498.5,601.0 506.5,601.9 514.5,602.6 522.5,603.4 530.5,604.2 538.5,604.4 546.5,604.4 554.5,604.2 562.5,603.7 570.5,602.4 578.5,600.6 586.5,598.6 594.5,596.5 602.5,594.4 610.5,592.7 618.5,591.2 626.5,589.4 634.5,588.3 642.5,587.7 650.5,587.7 658.5,587.8 666.5,588.0 674.5,588.3 682.5,588.6 690.5,588.9 698.5,589.4 706.5,589.7 714.5,590.4 722.5,591.0 730.5,591.8 738.5,592.8 746.5,594.0 754.5,595.1 762.5,596.2 770.5,597.2 778.5,598.2 786.5,599.1 794.5,600.1 802.5,600.6 810.5,600.7 818.5,600.1 826.5,599.0 834.5,597.8 842.5,597.1 850.5,596.9 858.5,597.0 866.5,597.7 874.5,599.7 882.5,602.8 890.5,606.9 898.5,611.7 906.5,616.5 914.5,620.8 922.5,623.9 930.5,626.2 938.5,627.4 946.5,627.5 954.5,627.4 962.5,627.5 970.5,627.8 978.5,628.6 986.5,629.9 994.5,632.2 1002.5,635.4 1010.5,639.5 1018.5,644.2 1026.5,648.5 1034.5,651.8 1042.5,654.4 1050.5,656.9 1058.5,659.0 1066.5,660.7 1074.5,661.7 1082.5,661.7 1090.5,660.8 1098.5,659.6 1106.5,658.5 1114.5,657.5" fill="none" stroke="#ff0000" stroke-width="1" stroke-dasharray="3,2"/>
</g>
<!-- RSI -->
<g clip-path="url(#cr)">
<line x1="3" y1="711.5" x2="1417" y2="711.5" stroke="#c0c0c0" stroke-dasharray="3,3"/>
<line x1="3" y1="762.5" x2="1417" y2="762.5" stroke="#c0c0c0" stroke-dasharray="3,3"/>
<polyline points="2.5,759.4 10.5,760.8 18.5,764.0 26.5,761.6 34.5,758.4 42.5,756.5 50.5,741.3 58.5,729.6 66.5,735.1 74.5,734.2 82.5,731.1 90.5,740.4 98.5,736.7 106.5,732.3 114.5,738.3 122.5,739.4 130.5,740.2 138.5,743.3 146.5,748.0 154.5,739.8 162.5,749.5 170.5,749.9 178.5,742.5 186.5,744.9 194.5,747.0 202.5,744.0 210.5,727.8 218.5,730.0 226.5,727.1 234.5,722.9 242.5,715.8 250.5,715.8 258.5,721.0 266.5,719.9 274.5,724.4 282.5,729.6 290.5,737.4 298.5,734.4 306.5,731.9 314.5,732.4 322.5,733.0 330.5,735.3 338.5,740.6 346.5,729.4 354.5,724.4 362.5,724.4 370.5,727.9 378.5,730.4 386.5,725.9 394.5,723.8 402.5,736.7 410.5,737.2 418.5,742.4 426.5,737.7 434.5,737.3 442.5,734.2 450.5,730.6 458.5,733.6 466.5,743.2 474.5,740.2 482.5,742.1 490.5,732.5 498.5,739.4 506.5,739.4 514.5,733.7 522.5,735.7 530.5,736.9 538.5,733.5 546.5,731.8 554.5,738.5 562.5,725.5 570.5,718.3 578.5,721.2 586.5,724.7 594.5,724.4 602.5,726.0 610.5,737.7 618.5,730.4 626.5,726.3 634.5,733.8 642.5,727.8 650.5,731.7 658.5,728.6 666.5,728.3 674.5,729.9 682.5,737.5 690.5,734.2 698.5,728.7 706.5,732.3 714.5,735.5 722.5,732.0 730.5,735.8 738.5,735.2 746.5,738.7 754.5,743.0 762.5,736.3 770.5,730.2 778.5,736.5 786.5,737.1 794.5,737.1 802.5,727.7 810.5,724.1 818.5,721.5 826.5,724.1 834.5,724.1 842.5,740.7 850.5,748.3 858.5,742.5 866.5,751.4 874.5,760.0 882.5,760.2 890.5,760.6 898.5,757.2 906.5,746.9 914.5,747.9 922.5,733.8 930.5,734.9 938.5,734.9 946.5,740.9 954.5,753.1 962.5,760.6 970.5,756.4 978.5,757.3 986.5,758.7 994.5,759.3 1002.5,764.0 1010.5,766.2 1018.5,767.2 1026.5,764.8 1034.5,755.9 1042.5,759.5 1050.5,763.3 1058.5,764.0 1066.5,756.6 1074.5,757.3 1082.5,752.0 1090.5,747.6 1098.5,754.3 1106.5,754.8 1114.5,758.9" fill="none" stroke="#1e90ff" stroke-width="1" />
</g>
<!-- right axis ticks for indicators -->
<rect x="1418" y="568" width="3" height="1" fill="#000"/>
<rect x="1418" y="606" width="3" height="1" fill="#000"/>
<rect x="1418" y="668" width="3" height="1" fill="#000"/>
<rect x="1418" y="673" width="3" height="1" fill="#000"/>
<rect x="1418" y="711" width="3" height="1" fill="#000"/>
<rect x="1418" y="762" width="3" height="1" fill="#000"/>
<rect x="1418" y="801" width="2" height="1" fill="#000"/>
<!-- current price box -->
<rect x="1419" y="533" width="39" height="11" fill="#000"/>
<!-- time ticks -->

<!-- trade panel -->
<path d="M5,45 H57 V69 H116 V45 H224 V109 H116 V69 H114 V109 H5 Z" fill="url(#gb)"/>
<path d="M5,45 H57 V69 H172 V45 H224 V109 H5 Z" fill="url(#gb)"/>
<rect x="57" y="45" width="115" height="24" fill="#fff"/>
<rect x="114" y="69" width="2" height="40" fill="#fff"/>
<g fill="#0000b0">
<rect x="5" y="45" width="52" height="1"/><rect x="5" y="45" width="1" height="64"/><rect x="56" y="45" width="1" height="25"/>
<rect x="56" y="69" width="58" height="1"/><rect x="113" y="69" width="1" height="40"/><rect x="5" y="108" width="109" height="1"/>
<rect x="172" y="45" width="52" height="1"/><rect x="223" y="45" width="1" height="64"/><rect x="172" y="45" width="1" height="25"/>
<rect x="116" y="69" width="57" height="1"/><rect x="116" y="69" width="1" height="40"/><rect x="116" y="108" width="108" height="1"/>
<rect x="9" y="68" width="44" height="1"/><rect x="176" y="68" width="44" height="1"/>
</g>
<rect x="9" y="69" width="44" height="1" fill="#8a8aff"/>
<rect x="176" y="69" width="44" height="1" fill="#8a8aff"/>
<rect x="59" y="45" width="111" height="22" fill="#a9abb0"/>
<rect x="60" y="46" width="109" height="20" fill="#fff"/>
<rect x="80" y="46" width="1" height="20" fill="#a9abb0"/>
<rect x="148" y="46" width="1" height="20" fill="#a9abb0"/>
<rect x="61" y="47" width="18" height="6" fill="#efefef"/><rect x="61" y="53" width="18" height="12" fill="#d5d5d5"/>
<rect x="150" y="47" width="18" height="6" fill="#efefef"/><rect x="150" y="53" width="18" height="12" fill="#d5d5d5"/>
<!-- tab bar -->
<rect x="0" y="822" width="1458" height="1" fill="#e3e3e3"/>
<rect x="0" y="824" width="1458" height="1" fill="#000"/>
<rect x="0" y="825" width="1458" height="19" fill="#f0f0f0"/>
<rect x="0" y="844" width="1458" height="1" fill="#fdfdfd"/>
<rect x="0" y="845" width="1458" height="3" fill="#efefef"/>
<rect x="0" y="848" width="1458" height="1" fill="#9c9c9c"/>
<rect x="0" y="849" width="1458" height="2" fill="#ffffff"/>
<rect x="327" y="823" width="108" height="20" fill="#000"/>
<rect x="328" y="823" width="106" height="19" fill="#fff"/>
</g>
<polygon points="67,54 72.5,54 69.75,57" fill="#4a62c8"/>
<polygon points="156,57 161.5,57 158.75,54" fill="#4a62c8"/>
<polygon points="1432,832.5 1436,829 1436,836" fill="#a0a0a0"/>
<polygon points="1452,829 1456,832.5 1452,836" fill="#a0a0a0"/>
<!-- texts -->
<g font-size="9.8" fill="#3a3a3a">
<text x="4.8" y="13" textLength="12.2" lengthAdjust="spacingAndGlyphs">H4</text><text x="33.8" y="13" textLength="11.2" lengthAdjust="spacingAndGlyphs">D1</text><text x="61" y="13" textLength="14" lengthAdjust="spacingAndGlyphs">W1</text><text x="88" y="13" textLength="14.2" lengthAdjust="spacingAndGlyphs">MN</text>
</g>
<polygon points="5,36 12,36 8.5,32" fill="#000"/>
<text x="17.5" y="37" font-size="9.8" fill="#000" stroke="#000" stroke-width="0.15" textLength="68" lengthAdjust="spacingAndGlyphs">USDCAD-,Daily</text>
<text x="92" y="37" font-size="9.8" fill="#000" stroke="#000" stroke-width="0.15" textLength="140" lengthAdjust="spacingAndGlyphs">1.30684 1.30690 1.30172 1.30313</text>
<g font-size="9.8" fill="#000" stroke="#000" stroke-width="0.18">
<rect x="1418" y="33" width="3" height="1" fill="#000"/>
<text transform="translate(1423,37) scale(0.92,1)">1.35850</text>
<rect x="1418" y="66" width="3" height="1" fill="#000"/>
<text transform="translate(1423,70) scale(0.92,1)">1.35490</text>
<rect x="1418" y="99" width="3" height="1" fill="#000"/>
<text transform="translate(1423,103) scale(0.92,1)">1.35120</text>
<rect x="1418" y="132" width="3" height="1" fill="#000"/>
<text transform="translate(1423,136) scale(0.92,1)">1.34760</text>
<rect x="1418" y="165" width="3" height="1" fill="#000"/>
<text transform="translate(1423,169) scale(0.92,1)">1.34400</text>
<rect x="1418" y="198" width="3" height="1" fill="#000"/>
<text transform="translate(1423,202) scale(0.92,1)">1.34040</text>
<rect x="1418" y="231" width="3" height="1" fill="#000"/>
<text transform="translate(1423,235) scale(0.92,1)">1.33680</text>
<rect x="1418" y="264" width="3" height="1" fill="#000"/>
<text transform="translate(1423,268) scale(0.92,1)">1.33310</text>
<rect x="1418" y="297" width="3" height="1" fill="#000"/>
<text transform="translate(1423,301) scale(0.92,1)">1.32950</text>
<rect x="1418" y="330" width="3" height="1" fill="#000"/>
<text transform="translate(1423,334) scale(0.92,1)">1.32590</text>
<rect x="1418" y="363" width="3" height="1" fill="#000"/>
<text transform="translate(1423,367) scale(0.92,1)">1.32230</text>
<rect x="1418" y="396" width="3" height="1" fill="#000"/>
<text transform="translate(1423,400) scale(0.92,1)">1.31870</text>
<rect x="1418" y="429" width="3" height="1" fill="#000"/>
<text transform="translate(1423,433) scale(0.92,1)">1.31500</text>
<rect x="1418" y="462" width="3" height="1" fill="#000"/>
<text transform="translate(1423,466) scale(0.92,1)">1.31140</text>
<rect x="1418" y="495" width="3" height="1" fill="#000"/>
<text transform="translate(1423,499) scale(0.92,1)">1.30780</text>
<rect x="1418" y="528" width="3" height="1" fill="#000"/>
<text transform="translate(1423,532) scale(0.92,1)">1.30420</text>
<rect x="1418" y="561" width="3" height="1" fill="#000"/>
<text transform="translate(1423,565) scale(0.92,1)">1.30060</text>
<text transform="translate(1421,578) scale(0.92,1)">0.005484</text>
<text transform="translate(1421,610) scale(0.92,1)">0.00</text>
<text transform="translate(1421,666) scale(0.92,1)">-0.008971</text>
<text transform="translate(1421,682) scale(0.92,1)">100</text>
<text transform="translate(1421,715) scale(0.92,1)">70</text>
<text transform="translate(1421,766) scale(0.92,1)">30</text>
<text transform="translate(1421,798) scale(0.92,1)">0</text>
<text transform="translate(1423,542) scale(0.92,1)" fill="#fff" stroke="#fff">1.30313</text>
<rect x="2" y="802" width="1" height="4" fill="#000"/>
<text transform="translate(1,814) scale(0.92,1)">30 Jan 2019</text>
<rect x="66" y="802" width="1" height="4" fill="#000"/>
<text transform="translate(65,814) scale(0.92,1)">8 Feb 2019</text>
<rect x="130" y="802" width="1" height="4" fill="#000"/>
<text transform="translate(129,814) scale(0.92,1)">18 Feb 2019</text>
<rect x="194" y="802" width="1" height="4" fill="#000"/>
<text transform="translate(193,814) scale(0.92,1)">27 Feb 2019</text>
<rect x="258" y="802" width="1" height="4" fill="#000"/>
<text transform="translate(257,814) scale(0.92,1)">8 Mar 2019</text>
<rect x="322" y="802" width="1" height="4" fill="#000"/>
<text transform="translate(321,814) scale(0.92,1)">18 Mar 2019</text>
<rect x="386" y="802" width="1" height="4" fill="#000"/>
<text transform="translate(385,814) scale(0.92,1)">27 Mar 2019</text>
<rect x="450" y="802" width="1" height="4" fill="#000"/>
<text transform="translate(449,814) scale(0.92,1)">5 Apr 2019</text>
<rect x="514" y="802" width="1" height="4" fill="#000"/>
<text transform="translate(513,814) scale(0.92,1)">15 Apr 2019</text>
<rect x="578" y="802" width="1" height="4" fill="#000"/>
<text transform="translate(577,814) scale(0.92,1)">25 Apr 2019</text>
<rect x="642" y="802" width="1" height="4" fill="#000"/>
<text transform="translate(641,814) scale(0.92,1)">5 May 2019</text>
<rect x="706" y="802" width="1" height="4" fill="#000"/>
<text transform="translate(705,814) scale(0.92,1)">14 May 2019</text>
<rect x="770" y="802" width="1" height="4" fill="#000"/>
<text transform="translate(769,814) scale(0.92,1)">23 May 2019</text>
<rect x="834" y="802" width="1" height="4" fill="#000"/>
<text transform="translate(833,814) scale(0.92,1)">2 Jun 2019</text>
<rect x="898" y="802" width="1" height="4" fill="#000"/>
<text transform="translate(897,814) scale(0.92,1)">11 Jun 2019</text>
<rect x="962" y="802" width="1" height="4" fill="#000"/>
<text transform="translate(961,814) scale(0.92,1)">20 Jun 2019</text>
<rect x="1026" y="802" width="1" height="4" fill="#000"/>
<text transform="translate(1025,814) scale(0.92,1)">30 Jun 2019</text>
<rect x="1090" y="802" width="1" height="4" fill="#000"/>
<text transform="translate(1089,814) scale(0.92,1)">9 Jul 2019</text>
</g>
<text x="6" y="579" font-size="10" fill="#000" stroke="#000" stroke-width="0.15" textLength="154" lengthAdjust="spacingAndGlyphs">MACD(12,26,9) -0.006516 -0.007333</text>
<text x="6" y="685" font-size="10" fill="#000" stroke="#000" stroke-width="0.15" textLength="67.5" lengthAdjust="spacingAndGlyphs">RSI(14) 32.8121</text>
<g font-size="12">
<text x="14" y="839" fill="#6d6d6d">EURUSD-,Daily</text>
<rect x="111" y="828" width="1" height="12" fill="#6d6d6d"/>
<text x="121" y="839" fill="#6d6d6d">AUDUSD-,Daily</text>
<rect x="219" y="828" width="1" height="12" fill="#6d6d6d"/>
<text x="231" y="839" fill="#6d6d6d">USDCHF-,Daily</text>
<text x="447" y="839" fill="#6d6d6d">USDCNH-,Daily</text>
<rect x="547" y="828" width="1" height="12" fill="#6d6d6d"/>
<text x="558" y="839" fill="#6d6d6d">EURCHF-,Weekly</text>
<rect x="667" y="828" width="1" height="12" fill="#6d6d6d"/>
<text x="678.5" y="839" fill="#6d6d6d">XAUUSD-,M30</text>
<rect x="775" y="828" width="1" height="12" fill="#6d6d6d"/>
<text x="786" y="839" fill="#6d6d6d">GBPUSD-,H1</text>
<rect x="870" y="828" width="1" height="12" fill="#6d6d6d"/>
<text x="882" y="839" fill="#6d6d6d">UKOil-,H1</text>
<rect x="951" y="828" width="1" height="12" fill="#6d6d6d"/>
<text x="338.5" y="839" fill="#000">USDCAD-,Daily</text>
</g>
<!-- trade panel texts -->
<text x="18" y="61" font-size="12" fill="#f0f0ff" stroke="#f0f0ff" stroke-width="0.2" textLength="25" lengthAdjust="spacingAndGlyphs">SELL</text>
<text x="186" y="61" font-size="12" fill="#f0f0ff" stroke="#f0f0ff" stroke-width="0.2" textLength="23" lengthAdjust="spacingAndGlyphs">BUY</text>
<text x="121.5" y="60" font-size="12" fill="#000" textLength="23" lengthAdjust="spacingAndGlyphs">1.00</text>
<text x="25.5" y="100" font-size="12" font-weight="bold" fill="#fff" textLength="23.5" lengthAdjust="spacingAndGlyphs">1.30</text>
<text x="53.5" y="100" font-size="33" fill="#fff" textLength="33.5" lengthAdjust="spacingAndGlyphs">31</text>
<text x="92.5" y="84" font-size="11" font-weight="bold" fill="#fff">3</text>
<text x="135.5" y="100" font-size="12" font-weight="bold" fill="#fff" textLength="23.5" lengthAdjust="spacingAndGlyphs">1.30</text>
<text x="164.5" y="100" font-size="33" fill="#fff" textLength="33.5" lengthAdjust="spacingAndGlyphs">33</text>
<text x="203.5" y="84" font-size="11" font-weight="bold" fill="#fff">5</text>
</svg>
</body></html>
